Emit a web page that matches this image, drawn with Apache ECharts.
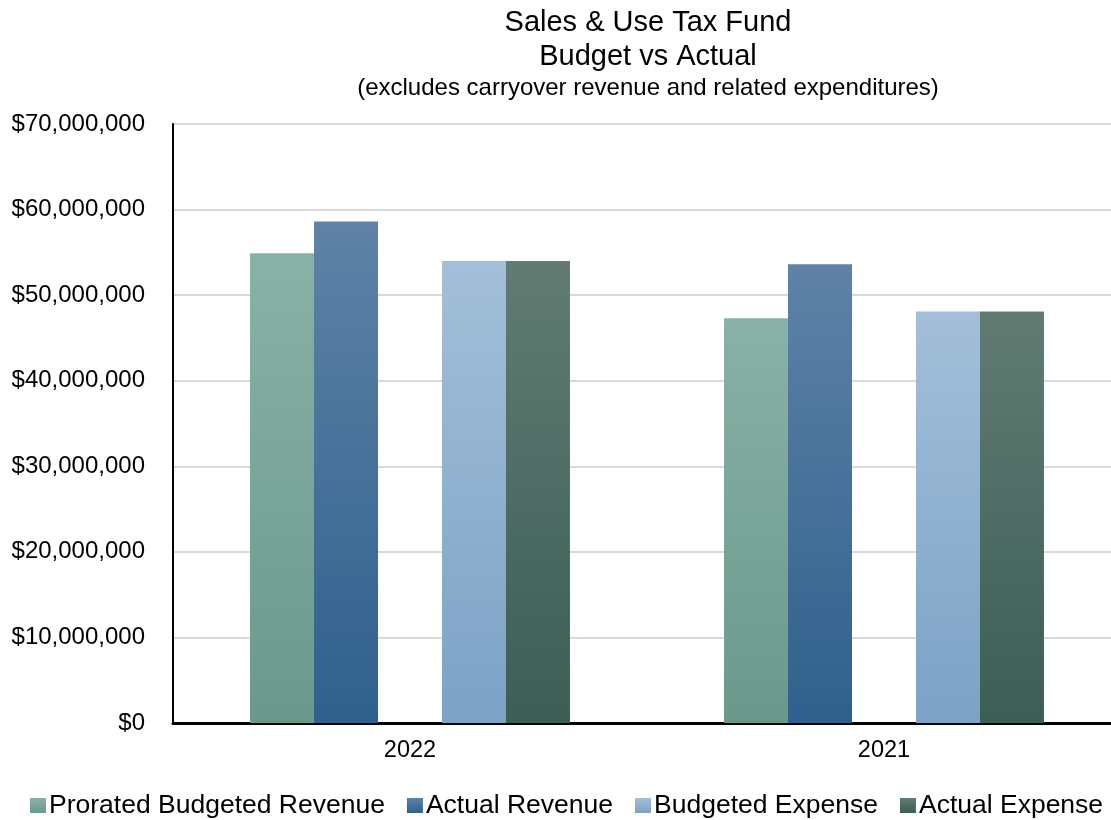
<!DOCTYPE html>
<html>
<head>
<meta charset="utf-8">
<title>Sales &amp; Use Tax Fund</title>
<script src="https://cdn.jsdelivr.net/npm/echarts@6/dist/echarts.min.js"></script>
<style>
  html, body { margin: 0; padding: 0; background: #ffffff; overflow: hidden; }
  /* the plot runs slightly past the right edge of the window */
  #chart { width: 1125px; height: 820px; }
</style>
</head>
<body>
<div id="chart"></div>
<script>
// Fiscal years shown on the category axis
const years = ['2022', '2021'];

// Amounts in dollars, one value per year
const proratedBudgetedRevenue = [54900000, 47300000];
const actualRevenue = [58600000, 53600000];
const budgetedExpense = [54000000, 48100000];
const actualExpense = [54000000, 48100000];

// Value axis range
const yMin = 0;
const yMax = 70000000;
const yStep = 10000000;

const FONT = '"Liberation Sans", Arial, sans-serif';

function grad(top, bottom) {
  return new echarts.graphic.LinearGradient(0, 0, 0, 1, [
    { offset: 0, color: top },
    { offset: 1, color: bottom }
  ]);
}

function money(v) {
  return '$' + Math.round(v).toString().replace(/\B(?=(\d{3})+(?!\d))/g, ',');
}

const chart = echarts.init(document.getElementById('chart'), null, { renderer: 'canvas' });

const bar = (name, data, top, bottom) => ({
  name: name,
  type: 'bar',
  data: data,
  barGap: '0%',
  barCategoryGap: '32.5%',
  itemStyle: { color: grad(top, bottom) },
  emphasis: { disabled: true }
});

chart.setOption({
  animation: false,
  backgroundColor: '#ffffff',
  textStyle: { fontFamily: FONT, color: '#000000' },
  title: [
    {
      text: 'Sales & Use Tax Fund',
      left: 643, top: 3, textAlign: 'center',
      textStyle: { fontFamily: FONT, fontSize: 29, fontWeight: 'normal', color: '#000000' }
    },
    {
      text: 'Budget vs Actual',
      left: 643, top: 37, textAlign: 'center',
      textStyle: { fontFamily: FONT, fontSize: 29, fontWeight: 'normal', color: '#000000' }
    },
    {
      text: '(excludes carryover revenue and related expenditures)',
      left: 643, top: 71, textAlign: 'center',
      textStyle: { fontFamily: FONT, fontSize: 24, fontWeight: 'normal', color: '#000000' }
    }
  ],
  legend: {
    data: ['Prorated Budgeted Revenue', 'Actual Revenue', 'Budgeted Expense', 'Actual Expense'],
    left: 25,
    top: 787,
    icon: 'rect',
    itemWidth: 16,
    itemHeight: 15,
    itemGap: 22,
    textStyle: { fontFamily: FONT, fontSize: 26.5, color: '#000000', padding: [0, 0, 0, -2] }
  },
  grid: { left: 173, top: 124, width: 948, height: 599, containLabel: false },
  xAxis: {
    type: 'category',
    data: years,
    axisLine: { show: true, lineStyle: { color: '#000000', width: 3 } },
    axisTick: { show: false },
    axisLabel: { fontFamily: FONT, fontSize: 23.5, color: '#000000', margin: 16 }
  },
  yAxis: {
    type: 'value',
    min: yMin,
    max: yMax,
    interval: yStep,
    axisLine: { show: true, lineStyle: { color: '#000000', width: 2 } },
    axisTick: { show: false },
    axisLabel: { fontFamily: FONT, fontSize: 24, color: '#000000', margin: 28, formatter: money },
    splitLine: { show: true, lineStyle: { color: '#d9d9d9', width: 2 } }
  },
  series: [
    bar('Prorated Budgeted Revenue', proratedBudgetedRevenue, '#8ab1a7', '#6a998c'),
    bar('Actual Revenue', actualRevenue, '#5f82a6', '#2f608d'),
    // empty slot that separates revenue bars from expense bars
    { name: 'spacer', type: 'bar', data: [null, null], barGap: '0%', barCategoryGap: '32.5%', silent: true },
    bar('Budgeted Expense', budgetedExpense, '#a3bfd9', '#7ca2c6'),
    bar('Actual Expense', actualExpense, '#617b73', '#3b5e55')
  ]
});
</script>
</body>
</html>
